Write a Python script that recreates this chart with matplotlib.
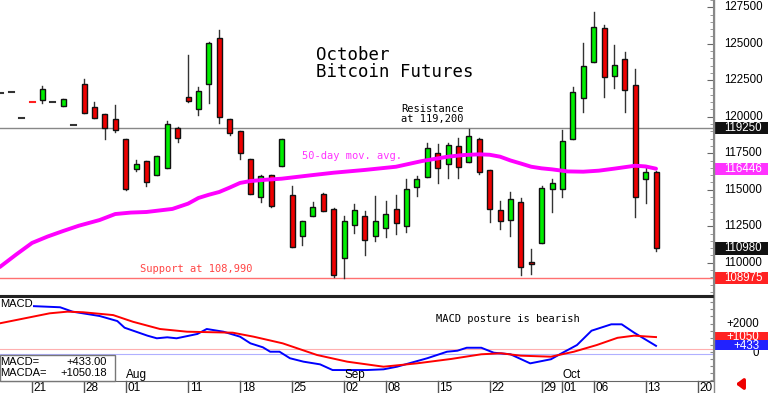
import matplotlib
matplotlib.use("Agg")
import matplotlib.pyplot as plt
from matplotlib.patches import Rectangle
from matplotlib.lines import Line2D
from matplotlib.transforms import blended_transform_factory

# trading-day index: 0 = Jul 21
days = list(range(-3, 61))
opens = [121610, 121680, 119920, 121020, 121150, 121040, 120760, 119460, 122250, 120650,
         120170, 119830, 118480, 116430, 116950, 115990, 116510, 119210, 121380, 120510,
         122250, 125380, 119850, 119030, 117110, 114530, 116010, 116630, 114660, 111860,
         113230, 114690, 113660, 110310, 112590, 113230, 111860, 112400, 113690, 112540,
         115170, 115900, 117500, 116750, 118020, 116930, 118460, 116360, 113620, 112930,
         114190, 110080, 111340, 115030, 115030, 118460, 121270, 123750, 126060, 122800,
         123940, 122180, 115720, 116200]
highs = [121610, 121680, 119920, 121020, 122110, 121040, 121220, 119460, 122570, 120990,
         120170, 120810, 118480, 117040, 116950, 117340, 119730, 119320, 124250, 122060,
         125100, 125950, 119850, 119030, 117110, 116020, 116010, 118500, 115260, 112880,
         114140, 114800, 113730, 113210, 114030, 113570, 114580, 114230, 114640, 115720,
         115950, 118190, 118120, 118190, 118570, 119160, 118570, 116360, 114230, 114870,
         114460, 110930, 115280, 115740, 119100, 122020, 125030, 127200, 126290, 124920,
         124460, 123270, 116470, 116310]
lows = [121610, 121680, 119920, 121000, 120920, 121040, 120760, 119460, 120280, 119900,
        118480, 118960, 114990, 116310, 115280, 115990, 116510, 118300, 120990, 120120,
        120970, 119560, 118750, 117130, 114710, 114190, 113800, 116630, 111100, 111220,
        113230, 113550, 109010, 108940, 112020, 110530, 111510, 111790, 111950, 112090,
        114580, 115850, 115490, 115790, 115790, 116930, 116060, 112820, 112300, 111840,
        109160, 109230, 111340, 113460, 114530, 118460, 120350, 123750, 121380, 121950,
        120350, 113120, 114080, 110830]
closes = [121610, 121680, 119920, 121000, 121880, 121040, 121220, 119460, 120280, 119920,
          119250, 119100, 115060, 116750, 115560, 117340, 119510, 118530, 121080, 121770,
          125030, 119970, 118870, 117500, 114710, 115950, 113890, 118500, 111100, 112880,
          113800, 113550, 109160, 112880, 113620, 111560, 112860, 113320, 112750, 115060,
          115720, 117840, 116510, 118070, 116580, 118690, 116240, 113660, 112880, 114370,
          109730, 109900, 115100, 115450, 118360, 121720, 123480, 126170, 122750, 123550,
          121840, 114530, 116240, 110980]

ma_days = [-3.1, -1.5, 0, 1.5, 3, 4.5, 6.5, 8, 9.5, 11, 13.5, 15, 16, 17, 18, 19, 20,
           21, 22.5, 24, 27, 29, 32, 35, 37.5, 40, 41.5, 43, 44, 45, 46, 47, 48, 49,
           50, 51.5, 53, 54.5, 56, 58, 59, 60]
ma_vals = [109710, 110580, 111360, 111800, 112180, 112540, 112930, 113340, 113440,
           113480, 113690, 114050, 114440, 114660, 114850, 115150, 115470, 115600,
           115690, 115760, 116010, 116170, 116360, 116580, 116970, 117270, 117380,
           117430, 117400, 117270, 117010, 116800, 116580, 116470, 116400, 116260,
           116240, 116310, 116450, 116650, 116600, 116446]

macd_days = [-3.1, -0.2, 2.7, 3.9, 6.5, 8.2, 8.9, 11.1, 12, 13, 13.9, 15.9, 16.8, 18.4,
             20, 21, 22.2, 22.9, 23.8, 24.8, 26.1, 27.7, 28.9, 30.3, 32.2, 33.8, 35.1,
             38, 39.9, 40.9, 41.8, 43.2, 44.4, 46, 47.9, 49.9, 50.8, 52.4, 53.8, 55.7,
             56.7, 57.9, 60]
macd_vals = [3550, 3240, 3150, 2840, 2535, 2180, 1710, 1150, 965, 1035, 965, 1270, 1620,
             1430, 1080, 610, 330, 20, 20, -440, -680, -870, -1270, -1270, -1270, -1220,
             -1035, -440, 20, 90, 300, 300, -50, -160, -800, -510, -140, 490, 1500, 1950,
             1950, 1360, 433]
sig_days = [-3.1, 0.1, 1.7, 3.4, 4.9, 7.8, 9.7, 12.3, 14.9, 19.3, 21.3, 24.1, 27.4,
            30.3, 33.8, 37, 40.3, 43.2, 45.1, 47, 49.9, 52.1, 54.3, 56.3, 57.9, 60]
sig_vals = [2020, 2490, 2725, 2840, 2800, 2600, 2130, 1620, 1430, 1360, 1080, 610, -210,
            -680, -1035, -800, -490, -160, -90, -260, -330, 20, 490, 1000, 1150, 1050]

tick_days = [0, 5, 9, 15, 20, 25, 30, 34, 39, 44, 49, 51, 54, 59, 64]
tick_labels = ["21", "28", "01", "11", "18", "25", "02", "08", "15", "22", "29", "01",
               "06", "13", "20"]
month_days = [9, 30, 51]
month_labels = ["Aug", "Sep", "Oct"]
price_ticks = [127500, 125000, 122500, 120000, 117500, 115000, 112500, 110000]

resistance = 119250
support = 108975
last_close = 110980
last_ma = 116446
last_macd = 433.00
last_macda = 1050.18

W, H = 768, 393
fig = plt.figure(figsize=(W / 100, H / 100), dpi=100)
SANS = "Liberation Sans"
MONO = "DejaVu Sans Mono"


def fx(px):
    return px / W


def fy(py):
    return 1 - py / H


ax = fig.add_axes([0, fy(296), fx(713), 296 / H])
ax2 = fig.add_axes([0, fy(381), fx(713), (381 - 297) / H])

xmin, xmax = -3.08, 65.48
ax.set_xlim(xmin, xmax)
ax.set_ylim(107726, 128000)
ax2.set_xlim(xmin, xmax)
ax2.set_ylim(-2042, 3873)

# candles
for d, o, h, l, c in zip(days, opens, highs, lows, closes):
    if h - l < 60:
        col = "#ff2020" if c < o else "#333333"
        ax.plot([d - 0.24, d + 0.24], [c, c], color=col, lw=1.5, zorder=3)
        continue
    ax.plot([d, d], [l, h], color="#333333", lw=1, zorder=2)
    face = "#00ee00" if c >= o else "#ee0000"
    ax.add_patch(Rectangle((d - 0.24, min(o, c)), 0.48, max(abs(c - o), 60),
                           facecolor=face, edgecolor="#111111", lw=1, zorder=3))

ax.plot(ma_days, ma_vals, color="#ff00ff", lw=2.8, zorder=4, solid_capstyle="round",
        solid_joinstyle="round")
ax.axhline(resistance, color="#888888", lw=1, zorder=1)
ax.axhline(support, color="#ff7070", lw=1, zorder=1)

for a in (ax, ax2):
    a.set_xticks([])
    a.set_yticks([])
    for s in ("left", "top"):
        a.spines[s].set_visible(False)
    a.spines["right"].set_color("#888888")
ax.spines["bottom"].set_color("#222222")
ax.spines["bottom"].set_linewidth(1.5)
ax2.spines["top"].set_visible(True)
ax2.spines["top"].set_color("#222222")
ax2.spines["top"].set_linewidth(1.5)
ax2.spines["bottom"].set_color("#666666")

# right axis ticks
ax.yaxis.tick_right()
ax.set_yticks(price_ticks)
ax.set_yticks(range(108000, 128001, 500), minor=True)
ax.tick_params(axis="y", which="major", direction="in", length=4, color="#666666",
               labelright=False)
ax.tick_params(axis="y", which="minor", direction="in", length=2, color="#888888")
ax2.yaxis.tick_right()
ax2.set_yticks(range(-2000, 3801, 500))
ax2.tick_params(axis="y", direction="in", length=2, color="#888888", labelright=False)

tr = blended_transform_factory(fig.transFigure, ax.transData)
for p in price_ticks:
    ax.text(fx(724), p, str(p), transform=tr, fontsize=8.3, family=SANS,
            va="center", ha="left", clip_on=False)

for val, fc in [(resistance, "#111111"), (last_ma, "#ff33ff"), (last_close, "#111111"),
                (support, "#ff2222")]:
    ax.add_patch(Rectangle((fx(714), val - 420), 1 - fx(714), 840, transform=tr,
                           facecolor=fc, edgecolor="none", clip_on=False, zorder=5))
    ax.text(fx(724), val, str(val), transform=tr, fontsize=8.3, family=SANS,
            color="white", va="center", ha="left", clip_on=False, zorder=6)

# MACD panel
ax2.plot(macd_days, macd_vals, color="#0000ff", lw=1.4, zorder=3)
ax2.plot(sig_days, sig_vals, color="#ff0000", lw=1.4, zorder=3)
ax2.axhline(190, color="#ffb0b0", lw=0.8, zorder=1)
ax2.axhline(-140, color="#b0b0ff", lw=0.8, zorder=1)

tr2 = blended_transform_factory(fig.transFigure, ax2.transData)
ax2.text(fx(759), 2000, "+2000", transform=tr2, fontsize=8.3, family=SANS,
         va="center", ha="right", clip_on=False)
ax2.text(fx(759), -100, "0", transform=tr2, fontsize=8.3, family=SANS,
         va="center", ha="right", clip_on=False)
for val, pos, hgt, fc, txt, z in [(1050, 1134, 590, "#ff2222", "+1050", 5),
                                  (433, 493, 700, "#2222ff", "+433", 7)]:
    ax2.add_patch(Rectangle((fx(715), pos - hgt / 2), 1 - fx(715), hgt, transform=tr2,
                            facecolor=fc, edgecolor="none", clip_on=False, zorder=z))
    ax2.text(fx(759), pos - 60, txt, transform=tr2, fontsize=8.3, family=SANS,
             color="white", va="center", ha="right", clip_on=False, zorder=z + 1)

# date axis
trd = blended_transform_factory(ax2.transData, fig.transFigure)
for d, lab in zip(tick_days, tick_labels):
    ax2.plot([d, d], [fy(381), fy(393)], transform=trd, color="#555555", lw=1,
             clip_on=False)
    ax2.text(d + 0.15, fy(388), lab, transform=trd, fontsize=8.5, family=SANS,
             va="center", ha="left", clip_on=False)
for d, lab in zip(month_days, month_labels):
    ax2.text(d + 0.05, fy(375), lab, transform=trd, fontsize=8.5, family=SANS,
             va="center", ha="left", clip_on=False)

fig.add_artist(Line2D([fx(713.5)] * 2, [0, 1], transform=fig.transFigure,
                      color="#888888", lw=1))


def ftext(x, y, s, **kw):
    fig.text(fx(x), fy(y), s, va="center", ha="left", **kw)


ftext(316, 55, "October", family=MONO, fontsize=12.5)
ftext(316, 72, "Bitcoin Futures", family=MONO, fontsize=12.5)
ftext(401, 109, "Resistance", family=MONO, fontsize=7.5)
ftext(401, 119, "at 119,200", family=MONO, fontsize=7.5)
ftext(302, 156, "50-day mov. avg.", family=MONO, fontsize=7.5, color="#ff33ff")
ftext(140, 269.5, "Support at 108,990", family=MONO, fontsize=7.5, color="#ff4444")
ftext(436, 319.5, "MACD posture is bearish", family=MONO, fontsize=7.5)
ftext(0, 304, "MACD", family=SANS, fontsize=8,
      bbox=dict(facecolor="white", edgecolor="none", pad=0.5))

fig.add_artist(Rectangle((0, fy(381)), fx(115), (381 - 355) / H, transform=fig.transFigure,
                         facecolor="white", edgecolor="#777777", lw=1, zorder=10))
ftext(0, 362, "MACD=", family=SANS, fontsize=8, zorder=11)
ftext(0, 373.5, "MACDA=", family=SANS, fontsize=8, zorder=11)
fig.text(fx(107), fy(362), "+%.2f" % last_macd, family=SANS, fontsize=8,
         va="center", ha="right", zorder=11)
fig.text(fx(107), fy(373.5), "+%.2f" % last_macda, family=SANS, fontsize=8,
         va="center", ha="right", zorder=11)

fig.add_artist(matplotlib.patches.FancyArrowPatch(
    (fx(746), fy(384)), (fx(733), fy(384)), transform=fig.transFigure,
    arrowstyle="-|>,head_length=4,head_width=3", color="#ee0000", lw=2.5))

fig.savefig("out.png", dpi=100)
